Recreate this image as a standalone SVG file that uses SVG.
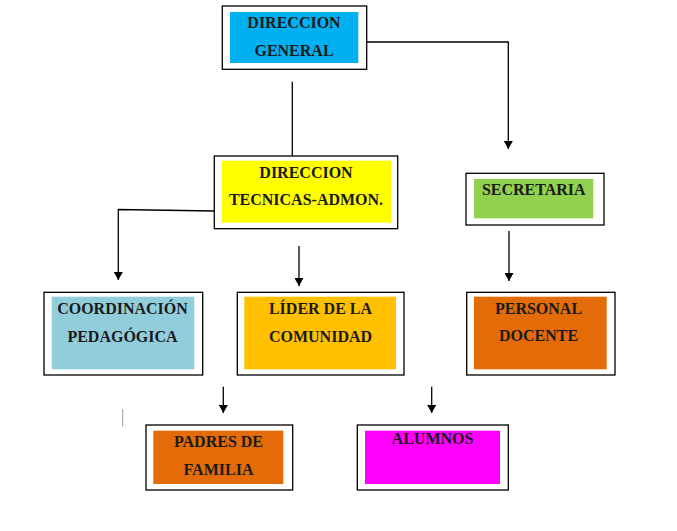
<svg xmlns="http://www.w3.org/2000/svg" width="677" height="531" viewBox="0 0 677 531">
<defs>
<style>
.outer{fill:#fff;stroke:#000;stroke-width:1.3}
.t{font-family:"Liberation Serif","Times New Roman",serif;font-weight:bold;font-size:16px;fill:#1a1a1a;text-anchor:middle}
.c{fill:none;stroke:#000;stroke-width:1.3}
</style>
<marker id="ah" markerWidth="9" markerHeight="9" refX="8" refY="4.5" orient="auto" markerUnits="userSpaceOnUse">
<path d="M0,0 L8,4.5 L0,9 Z" fill="#000"/>
</marker>
</defs>
<rect width="677" height="531" fill="#fff"/>
<g id="connectors">
<polyline class="c" points="366.7,42 508.3,42 508.3,149" marker-end="url(#ah)"/>
<line class="c" x1="292.3" y1="81.7" x2="292.3" y2="156"/>
<polyline class="c" points="214,211 118.3,209.5 118.3,280" marker-end="url(#ah)"/>
<line class="c" x1="299" y1="246" x2="299" y2="286" marker-end="url(#ah)"/>
<line class="c" x1="509" y1="231" x2="509" y2="281" marker-end="url(#ah)"/>
<line class="c" x1="223.3" y1="386.7" x2="223.3" y2="413" marker-end="url(#ah)"/>
<line class="c" x1="431.7" y1="386.7" x2="431.7" y2="413" marker-end="url(#ah)"/>
<line x1="122.7" y1="409" x2="122.7" y2="426.7" stroke="#999" stroke-width="1"/>
</g>
<g id="n1">
<rect class="outer" x="222.3" y="6" width="144.4" height="63.3"/>
<rect x="230" y="12" width="128.3" height="51" fill="#00B0F0"/>
<text class="t" x="294" y="27.5">DIRECCION</text>
<text class="t" x="294" y="56">GENERAL</text>
</g>
<g id="n2">
<rect class="outer" x="214.3" y="156" width="183.4" height="72.7"/>
<rect x="221.7" y="160.7" width="169.3" height="62" fill="#FFFF00"/>
<text class="t" x="306" y="177.5">DIRECCION</text>
<text class="t" x="306" y="205">TECNICAS-ADMON.</text>
</g>
<g id="n3">
<rect class="outer" x="466" y="173.3" width="138" height="51.7"/>
<rect x="474" y="179" width="119.3" height="39.3" fill="#92D050"/>
<text class="t" x="533.8" y="195">SECRETARIA</text>
</g>
<g id="n4">
<rect class="outer" x="44" y="292.3" width="158.7" height="82.7"/>
<rect x="51.7" y="296.7" width="142.6" height="72.6" fill="#92CDDC"/>
<text class="t" x="122.5" y="313.5">COORDINACIÓN</text>
<text class="t" x="122.5" y="341.5">PEDAGÓGICA</text>
</g>
<g id="n5">
<rect class="outer" x="237.3" y="292.3" width="166.7" height="82.7"/>
<rect x="244.3" y="296.7" width="151.7" height="72.6" fill="#FFC000"/>
<text class="t" x="320.5" y="313.5">LÍDER DE LA</text>
<text class="t" x="320.5" y="341.5">COMUNIDAD</text>
</g>
<g id="n6">
<rect class="outer" x="466.7" y="292.3" width="148.3" height="82.7"/>
<rect x="474" y="296.7" width="132.7" height="72.6" fill="#E36C09"/>
<text class="t" x="538.5" y="313.5">PERSONAL</text>
<text class="t" x="538.5" y="341">DOCENTE</text>
</g>
<g id="n7">
<rect class="outer" x="146" y="425" width="146.7" height="65"/>
<rect x="153.3" y="430.7" width="130" height="53.3" fill="#E36C09"/>
<text class="t" x="218.5" y="446.7">PADRES DE</text>
<text class="t" x="218.5" y="475">FAMILIA</text>
</g>
<g id="n8">
<rect class="outer" x="357.3" y="425" width="151" height="65"/>
<rect x="365" y="430.7" width="135" height="53.3" fill="#FF00FF"/>
<text class="t" x="432.5" y="444.3">ALUMNOS</text>
</g>
</svg>
